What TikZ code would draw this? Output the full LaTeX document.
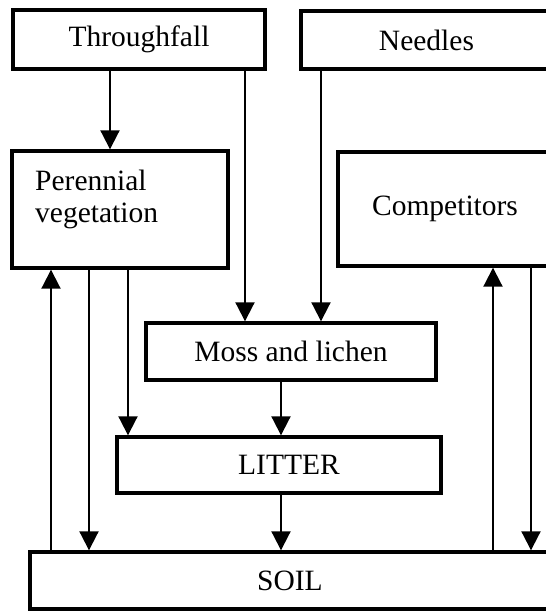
\documentclass[tikz,border=0pt]{standalone}
\usepackage{fontspec}
\setmainfont{Liberation Serif}
\usetikzlibrary{arrows.meta}
\begin{document}
\begin{tikzpicture}[x=1pt,y=-1pt,
  box/.style={draw,line width=3.4pt,minimum width=#1,inner sep=0pt,font=\fontsize{29.5}{32}\selectfont},
  lbl/.style={inner sep=0pt,font=\fontsize{29.5}{32}\selectfont},
  arr/.style={line width=2pt,-{Triangle[length=19pt,width=19pt]}},
  ln/.style={line width=2pt}]
\useasboundingbox (0,0) rectangle (546,611);
\node[box=252pt,minimum height=59pt] (thr) at (139,39.5) {Throughfall};
\node[box=251pt,minimum height=58pt] (ndl) at (426.5,40) {Needles};
\node[box=216pt,minimum height=117pt] (pv) at (120,209.5) {};
\node[lbl,anchor=base west] (pvt1) at (35,190) {Perennial};
\node[lbl,anchor=base west] (pvt2) at (35,222) {vegetation};
\node[box=214pt,minimum height=114pt] (cmp) at (445,209) {Competitors};
\node[box=290pt,minimum height=57pt] (moss) at (291,351.5) {Moss and lichen};
\node[box=324pt,minimum height=56pt] (lit) at (279,465) {\hspace{20pt}LITTER};
\node[box=520pt,minimum height=57pt] (soil) at (290,580.5) {SOIL};
\coordinate (c1) at (51,0);
\coordinate (c2) at (89,0);
\coordinate (c3) at (110,0);
\coordinate (c4) at (128,0);
\coordinate (c5) at (245,0);
\coordinate (c6) at (281,0);
\coordinate (c7) at (321,0);
\coordinate (c8) at (493,0);
\coordinate (c9) at (531,0);
\draw[arr] (thr.south -| c3) -- (pv.north -| c3);
\draw[arr] (thr.south -| c5) -- (moss.north -| c5);
\draw[arr] (ndl.south -| c7) -- (moss.north -| c7);
\draw[arr] (soil.north -| c1) -- (pv.south -| c1);
\draw[arr] (pv.south -| c2) -- (soil.north -| c2);
\draw[arr] (pv.south -| c4) -- (lit.north -| c4);
\draw[arr] (moss.south -| c6) -- (lit.north -| c6);
\draw[arr] (lit.south -| c6) -- (soil.north -| c6);
\draw[arr] (soil.north -| c8) -- (cmp.south -| c8);
\draw[arr] (cmp.south -| c9) -- (soil.north -| c9);
\end{tikzpicture}
\end{document}
